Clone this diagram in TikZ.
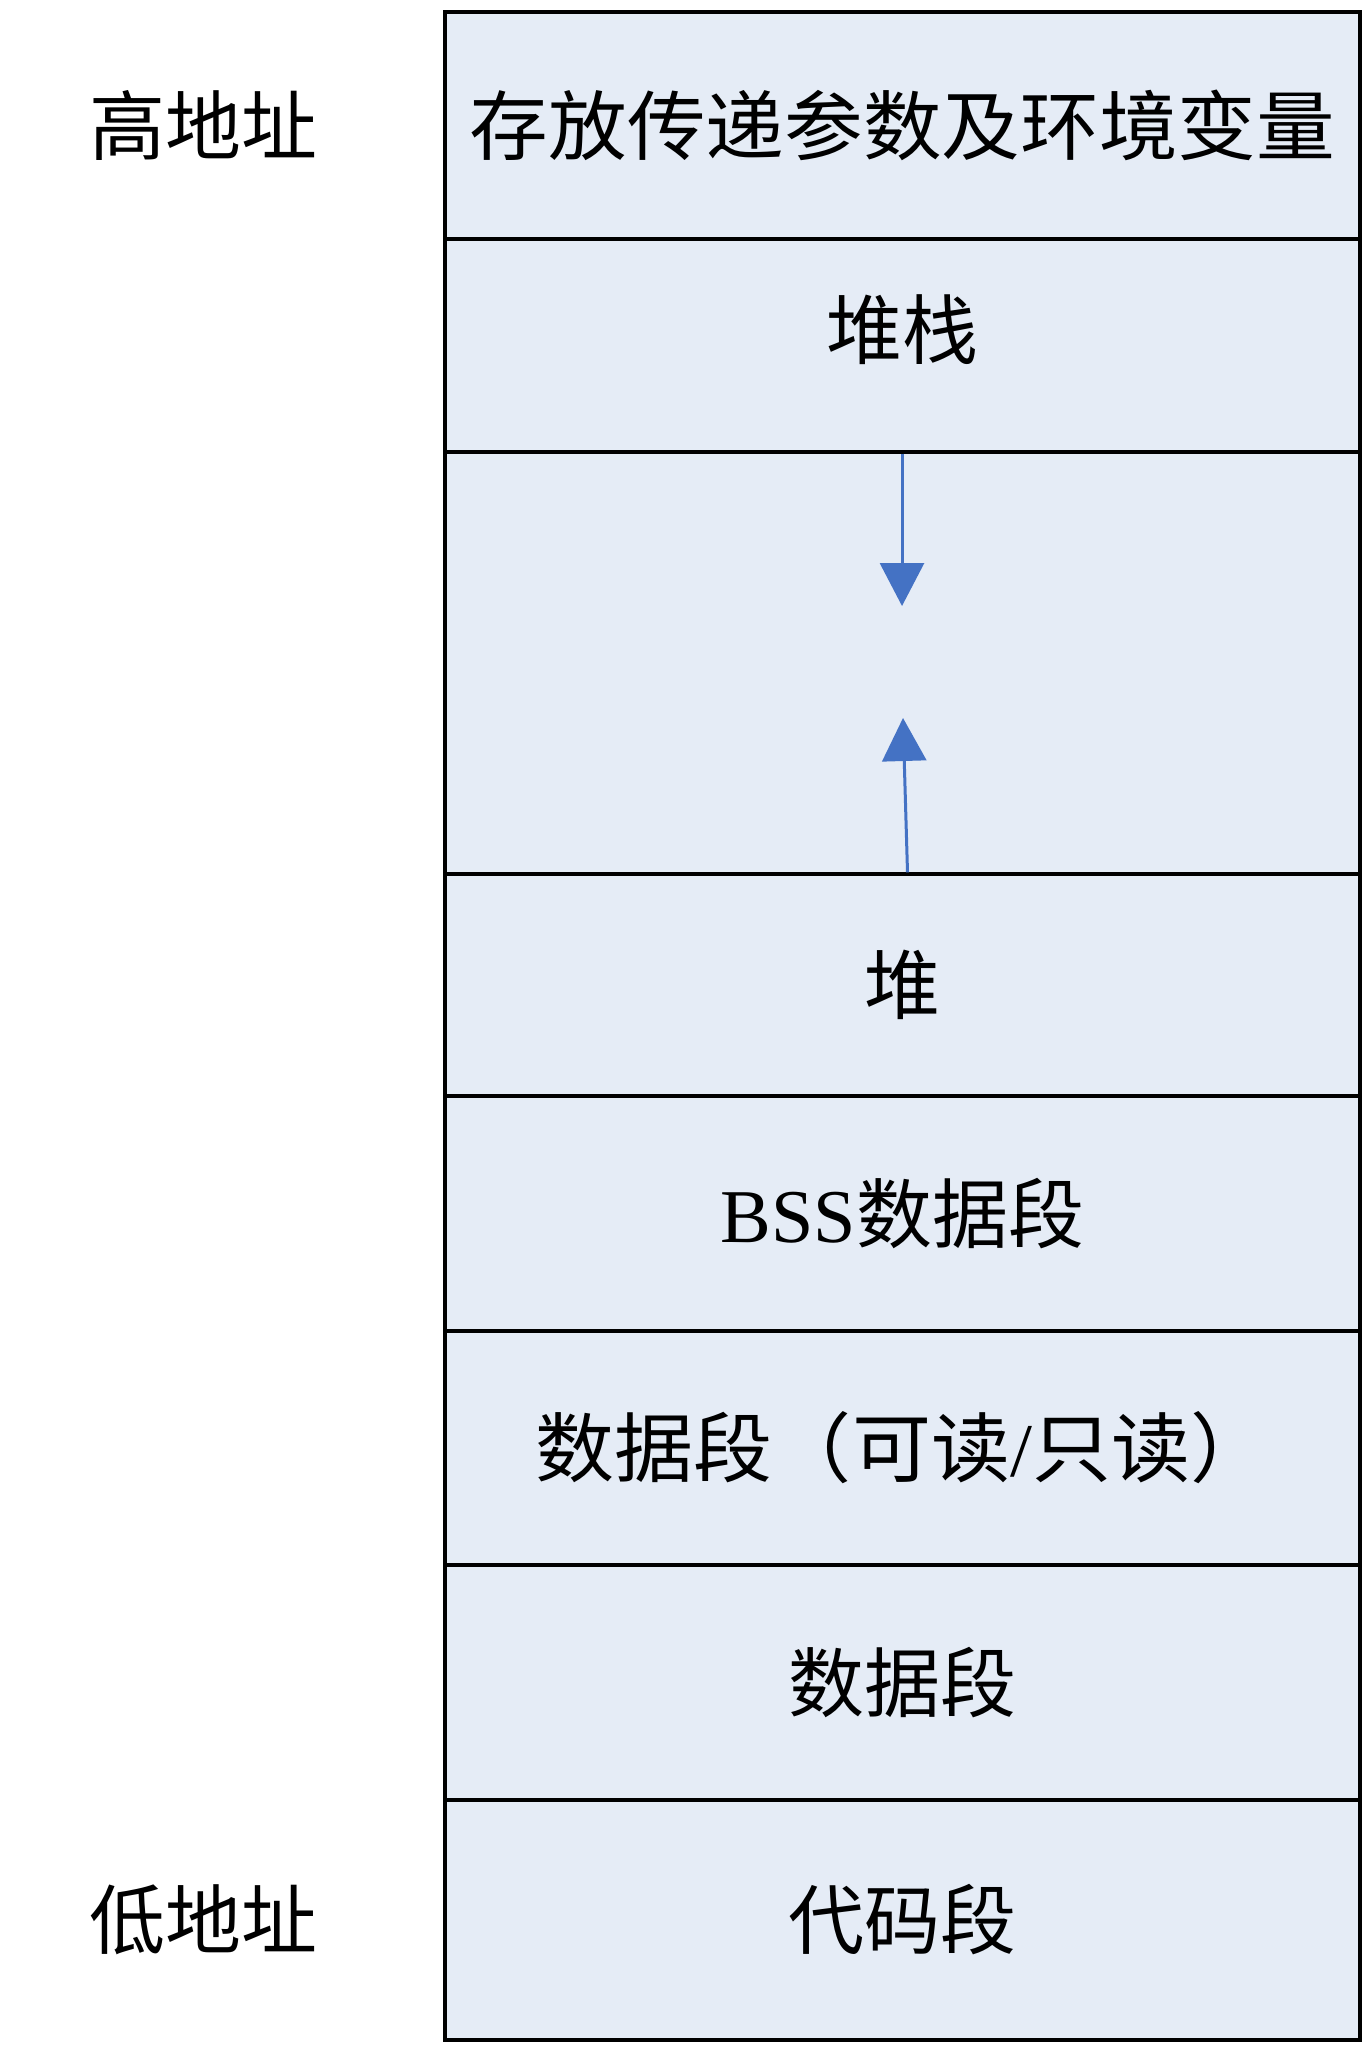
\documentclass[tikz,border=0pt]{standalone}
\usepackage{fontspec}
\setmainfont{Liberation Serif}
\newfontfamily\cjk{Noto Sans CJK SC}
\usetikzlibrary{positioning,arrows.meta}
\definecolor{segfill}{HTML}{E5ECF6}
\definecolor{arrowblue}{HTML}{4472C4}
\newcommand{\segfont}{\fontsize{38pt}{40pt}\selectfont\cjk}

\begin{document}
\begin{tikzpicture}[x=0.5pt,y=-0.5pt,
		seg/.style={draw=black,line width=1.7pt,fill=segfill,minimum width=457.5pt,inner sep=0pt,font=\segfont},
		addr/.style={font=\segfont,inner sep=0pt},
		growarrow/.style={draw=arrowblue,line width=1.5pt,-{Triangle[length=21.5pt,width=22pt]}}]
	\useasboundingbox (0,0) rectangle (1369,2048);
	% memory segments, top to bottom
	\node[seg,minimum height=113.5pt] (env) at (902.5,125.5) {\scalebox{1.035}[1]{存放传递参数及环境变量}};
	\node[seg,minimum height=106.5pt] (stack) at (902.5,345.5) {};
	\node[seg,minimum height=211pt] (gap) at (902.5,663) {};
	\node[seg,minimum height=111pt] (heap) at (902.5,985) {堆};
	\node[seg,minimum height=117.5pt] (bss) at (902.5,1213.5) {{\rmfamily BSS}数据段};
	\node[seg,minimum height=117pt] (rodata) at (902.5,1448) {\scalebox{1.04}[1]{数据段（可读{\rmfamily /}只读）}};
	\node[seg,minimum height=117.5pt] (data) at (902.5,1682.5) {数据段};
	\node[seg,minimum height=120pt] (code) at (902.5,1920) {代码段};
	\node[addr] (stacktxt) at ([yshift=8pt]stack) {堆栈};
	% address labels
	\node[addr,left=62.5pt of env] (high) {高地址};
	\node[addr,left=62.5pt of code] (low) {低地址};
	% growth arrows
	\coordinate (downtip) at (902,606);
	\coordinate (uptip) at (903,718);
	\draw[growarrow] (stack.south -| downtip) -- (downtip);
	\draw[growarrow] ([xshift=2.5pt]heap.north) -- (uptip);
\end{tikzpicture}
\end{document}
